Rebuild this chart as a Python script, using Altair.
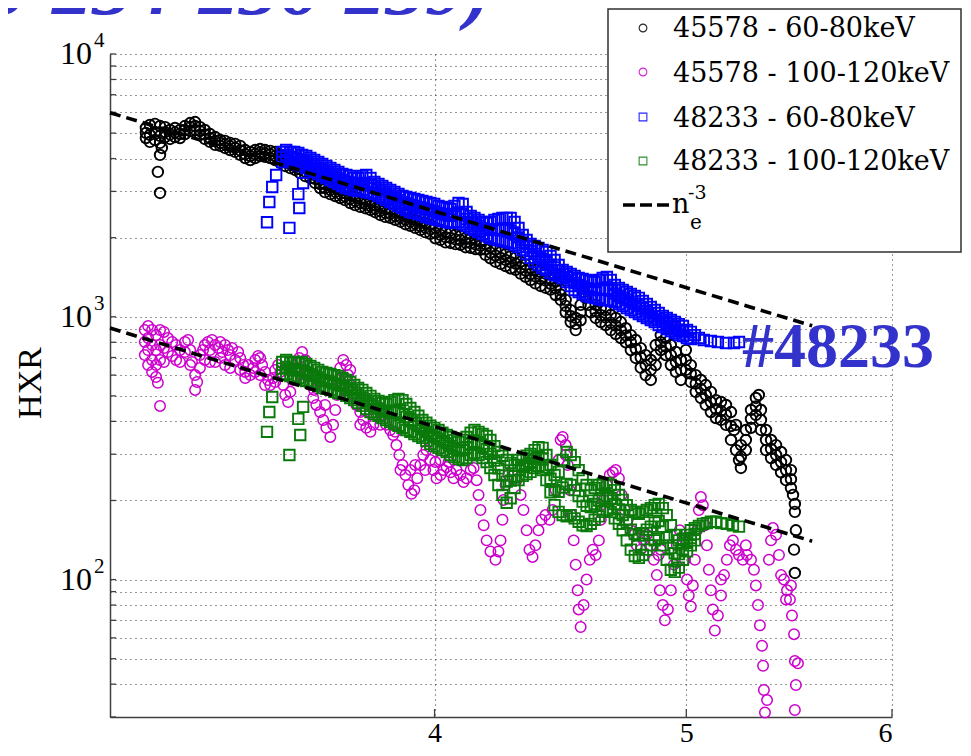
import altair as alt
import pandas as pd

# ---------------- data ----------------
series_names = ["45578 - 60-80keV", "45578 - 100-120keV", "48233 - 60-80keV", "48233 - 100-120keV"]
series_colors = ["#000000", "#cc00cc", "#0000ff", "#0a7a0a"]
series_shapes = ["circle", "circle", "square", "square"]
series_strokes = [1.9, 1.5, 1.9, 1.9]

# 45578 - 60-80keV  (n_e, HXR)
black_pts = [
(3.097,5230),(3.097,4790),(3.108,5370),(3.108,4920),(3.108,4630),(3.122,5420),(3.122,5050),(3.122,4710),
(3.136,5320),(3.136,4880),(3.136,4590),(3.150,5270),(3.150,4830),(3.164,5140),(3.164,4750),
(3.141,4390),(3.136,4130),(3.130,3560),(3.136,2960),
(3.178,5230),(3.178,4830),(3.192,5140),(3.192,4790),(3.206,5320),(3.206,4960),(3.221,5460),(3.221,5090),
(3.235,5510),(3.235,5140),(3.249,5270),(3.249,4920),(3.263,5140),(3.263,4750),(3.278,4960),(3.278,4630),
(3.293,4830),(3.293,4510),(3.308,4710),(3.308,4470),(3.322,4670),(3.322,4390),(3.337,4590),(3.337,4310),
(3.352,4550),(3.352,4240),(3.367,4470),(3.367,4130),(3.382,4310),(3.382,4020),(3.397,4240),(3.397,3950),
(3.412,4310),(3.412,4020),(3.427,4350),(3.427,4090),(3.442,4310),(3.442,4060),(3.458,4280),(3.458,4020),
(3.473,4240),(3.473,3950),(3.489,4130),(3.489,3850),(3.504,4020),(3.504,3750),(3.520,3950),(3.520,3680),
(3.535,3850),(3.535,3620),(3.551,3780),(3.551,3520),(3.567,3710),(3.567,3430),(3.583,3620),(3.583,3370),
(3.598,3460),(3.598,3230),(3.614,3320),(3.614,3090),(3.630,3200),(3.630,2980),(3.647,3150),(3.647,2930),
(3.663,3090),(3.663,2880),(3.679,3040),(3.679,2830),(3.695,2960),(3.695,2780),(3.712,2910),(3.712,2710),
(3.728,2860),(3.728,2660),(3.745,2810),(3.745,2620),(3.762,2780),(3.762,2590),(3.779,2730),(3.779,2550),
(3.795,2660),(3.795,2500),(3.812,2620),(3.812,2440),(3.829,2570),(3.829,2400),(3.846,2550),(3.846,2380),
(3.863,2500),(3.863,2340),(3.881,2480),(3.881,2300),(3.898,2440),(3.898,2250),(3.915,2380),(3.915,2220),
(3.932,2340),(3.932,2180),(3.950,2290),(3.950,2140),(3.967,2270),(3.967,2100),(3.985,2240),(3.985,2070),
(4.003,2180),(4.003,1990),(4.021,2140),(4.021,1960),(4.039,2100),(4.039,1920),(4.057,2080),(4.057,1910),
(4.075,2050),(4.075,1890),(4.093,2030),(4.093,1880),(4.111,1990),(4.111,1840),(4.130,1980),(4.130,1830),
(4.148,1960),(4.148,1810),(4.166,1930),(4.166,1800),(4.185,1890),(4.185,1720),(4.203,1840),(4.203,1670),
(4.222,1800),(4.222,1620),(4.241,1760),(4.241,1590),(4.260,1730),(4.260,1560),(4.279,1700),(4.279,1530),
(4.298,1680),(4.298,1510),(4.317,1620),(4.317,1460),(4.336,1580),(4.336,1420),(4.355,1530),(4.355,1380),
(4.374,1510),(4.374,1340),(4.394,1480),(4.394,1310),(4.413,1460),(4.413,1290),(4.433,1400),(4.433,1270),
(4.453,1360),(4.453,1210),(4.473,1270),(4.473,1160),(4.493,1160),(4.493,1040),(4.513,1060),(4.513,955),
(4.533,990),(4.533,890),(4.553,1110),(4.553,970),(4.565,1240),(4.573,1180),(4.585,1110),(4.594,1040),
(4.614,1110),(4.614,990),(4.635,1080),(4.635,955),(4.655,1060),(4.655,930),(4.676,1016),(4.676,890),
(4.697,990),(4.697,860),(4.718,955),(4.718,830),(4.739,905),(4.739,800),(4.760,852),(4.760,747),
(4.781,816),(4.781,697),(4.802,760),(4.802,640),(4.823,715),(4.823,600),(4.845,685),(4.845,575),
(4.866,781),(4.866,655),(4.888,852),(4.888,747),(4.910,830),(4.910,715),(4.932,781),(4.932,655),
(4.954,735),(4.954,617),(4.976,685),(4.976,575),(4.998,747),(4.998,628),(5.020,655),(5.020,565),
(5.042,600),(5.042,518),(5.065,575),(5.065,491),(5.087,550),(5.087,462),(5.110,518),(5.110,434),
(5.133,482),(5.133,412),(5.156,474),(5.156,405),(5.179,462),(5.179,388),(5.202,434),(5.202,340),
(5.216,371),(5.225,388),(5.225,311),(5.239,285),(5.248,325),(5.248,266),(5.271,371),(5.271,311),
(5.295,442),(5.295,378),(5.318,491),(5.318,423),(5.332,504),(5.342,442),(5.342,371),(5.366,371),(5.366,311),
(5.390,340),(5.390,290),(5.414,325),(5.414,273),(5.438,306),(5.438,256),(5.462,285),(5.462,239),
(5.486,261),(5.486,223),(5.496,210),(5.505,194),(5.505,181),(5.510,154),(5.501,130),(5.505,106),
# band centre
(3.097,5005),(3.150,5045),(3.164,4940),(3.178,5025),(3.192,4960),(3.206,5135),(3.221,5270),(3.235,5320),
(3.249,5090),(3.263,4940),(3.278,4790),(3.293,4665),(3.308,4590),(3.322,4530),(3.337,4450),(3.352,4390),
(3.367,4295),(3.382,4160),(3.397,4090),(3.412,4160),(3.427,4220),(3.442,4180),(3.458,4150),(3.473,4090),
(3.489,3990),(3.504,3880),(3.520,3810),(3.535,3735),(3.551,3650),(3.567,3565),(3.583,3490),(3.598,3345),
(3.614,3200),(3.630,3090),(3.647,3040),(3.663,2985),(3.679,2935),(3.695,2870),(3.712,2810),(3.728,2760),
(3.745,2715),(3.762,2685),(3.779,2640),(3.795,2580),(3.812,2530),(3.829,2485),(3.846,2465),(3.863,2420),
(3.881,2390),(3.898,2345),(3.915,2300),(3.932,2260),(3.950,2215),(3.967,2185),(3.985,2155),(4.003,2085),
(4.021,2050),(4.039,2010),(4.057,1995),(4.075,1970),(4.093,1955),(4.111,1915),(4.130,1905),(4.148,1885),
(4.166,1865),(4.185,1805),(4.203,1755),(4.222,1710),(4.241,1675),(4.260,1645),(4.279,1615),(4.298,1595),
(4.317,1540),(4.336,1500),(4.355,1455),(4.374,1425),(4.394,1395),(4.413,1375),(4.433,1335),(4.453,1285),
(4.473,1215),(4.493,1100),(4.513,1005),(4.533,940),(4.553,1040),(4.614,1050),(4.635,1015),(4.655,995),
(4.676,950),(4.697,925),(4.718,890),(4.739,850),(4.760,800),(4.781,755),(4.802,700),(4.823,655),
(4.845,628),(4.866,715),(4.888,800),(4.910,770),(4.932,715),(4.954,673),(4.976,628),(4.998,685),
(5.020,608),(5.042,557),(5.065,531),(5.087,504),(5.110,474),(5.133,446),(5.156,438),(5.179,424),
(5.202,384),(5.248,294),(5.271,340),(5.295,409),(5.318,456),(5.342,405),(5.366,340),(5.390,314),
(5.414,298),(5.438,280),(5.462,261),(5.486,241),
]

# 45578 - 100-120keV
magenta_pts = [
(3.094,891),(3.094,802),(3.094,715),(3.103,922),(3.103,830),(3.103,747),(3.103,655),(3.114,891),(3.114,781),
(3.114,685),(3.114,617),(3.125,852),(3.125,747),(3.125,655),(3.125,590),(3.136,891),(3.136,781),(3.136,685),
(3.147,876),(3.147,760),(3.147,673),(3.158,830),(3.158,734),(3.170,802),(3.170,709),(3.181,781),(3.181,685),
(3.192,747),(3.192,673),(3.130,561),(3.136,458),(3.206,802),(3.206,734),(3.215,816),(3.221,747),(3.226,673),
(3.235,600),(3.235,527),(3.241,565),(3.249,639),(3.249,715),(3.258,747),(3.263,781),(3.272,802),(3.278,747),
(3.284,816),(3.293,781),(3.302,760),(3.308,802),(3.314,734),(3.322,781),(3.331,747),(3.337,715),(3.343,760),
(3.352,685),(3.361,734),(3.367,697),(3.376,655),(3.382,617),(3.391,655),(3.397,600),(3.406,639),(3.412,685),
(3.421,709),(3.427,697),(3.433,655),(3.442,617),(3.451,575),(3.458,550),(3.467,585),(3.473,628),(3.482,655),
(3.489,617),(3.498,550),(3.504,504),(3.513,474),(3.520,518),(3.529,575),(3.538,639),(3.548,697),(3.557,734),
(3.567,685),(3.576,617),(3.583,550),(3.592,491),(3.602,462),(3.614,434),(3.624,405),(3.634,378),(3.647,349),
(3.656,388),(3.663,442),(3.669,504),(3.673,575),(3.679,639),(3.689,685),(3.699,655),(3.705,600),(3.712,550),
(3.722,504),(3.732,462),(3.745,434),(3.755,405),(3.765,378),(3.779,365),(3.789,388),(3.799,423),(3.812,442),
(3.822,423),(3.832,388),(3.846,371),(3.856,355),(3.867,325),(3.877,298),(3.888,273),(3.898,250),(3.908,229),
(3.919,212),(3.929,219),(3.939,243),(3.950,273),(3.960,298),(3.971,311),(3.985,285),(3.996,261),(4.007,243),
(4.021,250),(4.032,261),(4.043,268),(4.057,256),
(3.263,685),(3.293,673),(3.322,655),(3.367,628),(3.427,600),(3.551,628),(3.695,585),(3.745,388),(3.881,261),
(3.932,273),
(3.221,655),(3.278,673),(3.308,697),(3.337,639),(3.382,585),(3.412,617),(3.442,550),(3.473,565),(3.520,628),
(3.567,600),(3.595,527),(3.630,462),(3.712,628),(3.762,442),(3.812,388),(3.863,365),(3.915,261),(3.967,261),
(4.003,280),
(4.068,243),(4.079,261),(4.093,250),(4.104,235),(4.115,243),(4.130,261),(4.141,266),(4.152,239),(4.159,210),
(4.166,184),(4.178,161),(4.189,141),(4.203,128),(4.222,119),(4.233,128),(4.241,141),(4.248,169),(4.252,201),
(4.260,229),(4.271,250),(4.286,261),(4.301,239),(4.317,210),(4.328,184),(4.340,154),(4.351,130),(4.363,122),
(4.374,135),(4.386,154),(4.398,169),(4.413,176),(4.429,169),(4.441,184),(4.453,219),(4.465,285),(4.473,340),
(4.481,349),(4.493,325),(4.501,273),(4.509,219),(4.517,176),(4.525,141),(4.533,114),(4.541,91),(4.545,77),
(4.553,66),(4.565,80),(4.577,100),(4.590,119),(4.602,130),(4.614,124),(4.627,141),(4.635,169),(4.647,201),
(4.660,229),(4.672,250),(4.685,256),(4.697,261),(4.710,243),(4.722,210),(4.735,184),(4.747,169),(4.760,154),
(4.773,148),(4.785,135),(4.802,130),(4.815,141),(4.828,148),(4.845,135),(4.858,119),(4.871,104),(4.884,91),
(4.897,80),(4.906,70),(4.919,77),(4.932,91),(4.945,114),(4.958,135),(4.971,154),(4.985,141),(4.994,119),
(5.003,100),(5.011,87),(5.020,79),(5.029,95),(5.038,119),(5.047,154),(5.056,184),(5.065,206),(5.074,192),
(5.083,161),(5.092,135),(5.101,109),(5.110,91),(5.119,77),(5.128,64),(5.142,73),(5.156,87),(5.170,104),
(5.183,119),(5.197,135),(5.211,141),(5.225,130),(5.239,124),(5.257,119),(5.276,124),(5.295,119),(5.309,109),
(5.318,95),(5.328,80),(5.337,67),(5.347,56),(5.352,47),(5.356,38),(5.361,31.2),(5.371,34.8),(5.380,119),
(5.390,141),(5.399,157),(5.414,148),(5.428,124),(5.438,104),(5.452,100),(5.467,91),(5.481,84),(5.491,73),
(5.501,62),(5.505,49),(5.510,39.7),(5.505,31.9),(5.520,48),
(4.021,285),(4.050,280),(4.635,192),(4.888,130),(5.271,135),(5.486,95),(5.462,84),(5.156,100),(4.493,298),
(4.879,124),
]

# 48233 - 60-80keV
blue_pts = [
(3.476,3464),(3.464,3118),(3.455,2735),(3.448,2290),(3.517,2180),(3.548,2595),(3.545,2930),(3.560,3230),
(3.495,4240),(3.495,3880),(3.507,4312),(3.507,3951),(3.520,4240),(3.520,3880),(3.532,4240),(3.532,3850),
(3.545,4200),(3.545,3781),(3.557,4128),(3.557,3750),(3.570,4090),(3.570,3685),(3.583,4020),(3.583,3619),
(3.595,3951),(3.595,3556),(3.608,3880),(3.608,3495),(3.621,3815),(3.621,3434),(3.634,3750),(3.634,3374),
(3.647,3685),(3.647,3315),(3.660,3619),(3.660,3258),(3.673,3556),(3.673,3201),(3.686,3495),(3.686,3146),
(3.699,3464),(3.699,3091),(3.712,3434),(3.712,3064),(3.725,3374),(3.725,3037),(3.738,3374),(3.738,3011),
(3.752,3434),(3.752,3037),(3.765,3464),(3.765,2984),(3.779,3374),(3.779,2958),(3.792,3258),(3.792,2932),
(3.806,3201),(3.806,2881),(3.819,3146),(3.819,2831),(3.832,3091),(3.832,2782),(3.846,3037),(3.846,2734),
(3.860,2984),(3.860,2686),(3.874,2932),(3.874,2640),(3.888,2881),(3.888,2594),(3.901,2856),(3.901,2549),
(3.915,2831),(3.915,2505),(3.929,2806),(3.929,2483),(3.943,2782),(3.943,2461),(3.957,2758),(3.957,2440),
(3.971,2734),(3.971,2397),(3.985,2710),(3.985,2377),(3.999,2686),(3.999,2356),(4.014,2640),(4.014,2335),
(4.028,2617),(4.028,2315),(4.043,2594),(4.043,2295),(4.057,2571),(4.057,2275),(4.071,2640),(4.071,2295),
(4.086,2710),(4.086,2295),(4.101,2686),(4.101,2255),(4.115,2505),(4.115,2216),(4.130,2418),(4.130,2178),
(4.144,2377),(4.144,2139),(4.159,2335),(4.159,2102),(4.174,2295),(4.174,2066),(4.189,2275),(4.189,2030),
(4.203,2295),(4.203,1995),(4.218,2335),(4.218,1977),(4.233,2356),(4.233,1960),(4.248,2377),(4.248,1943),
(4.264,2377),(4.264,1926),(4.279,2377),(4.279,1909),(4.294,2295),(4.294,1876),(4.309,2178),(4.309,1843),
(4.325,2048),(4.325,1796),(4.340,1960),(4.340,1734),(4.355,1893),(4.355,1675),(4.371,1860),(4.371,1617),
(4.386,1827),(4.386,1575),(4.402,1796),(4.402,1534),(4.417,1765),(4.417,1507),(4.433,1704),(4.433,1468),
(4.449,1645),(4.449,1442),(4.465,1575),(4.465,1430),(4.481,1507),(4.481,1405),(4.497,1481),(4.497,1356),
(4.513,1455),(4.513,1310),(4.529,1430),(4.529,1265),(4.545,1405),(4.545,1243),(4.561,1392),(4.561,1221),
(4.577,1380),(4.577,1200),(4.594,1368),(4.594,1190),(4.610,1356),(4.610,1180),(4.627,1380),(4.627,1169),
(4.643,1405),(4.643,1159),(4.660,1417),(4.660,1159),(4.676,1380),(4.676,1149),(4.693,1321),(4.693,1139),
(4.710,1287),(4.710,1119),(4.726,1265),(4.726,1100),(4.743,1243),(4.743,1080),(4.760,1221),(4.760,1061),
(4.777,1200),(4.777,1043),(4.794,1180),(4.794,1025),(4.811,1149),(4.811,1007),(4.828,1119),(4.828,990),
(4.845,1090),(4.845,972),(4.862,1061),(4.862,955),(4.879,1034),(4.879,930),(4.897,1007),(4.897,914),
(4.914,990),(4.914,898),(4.932,972),(4.932,883),(4.949,955),(4.949,868),(4.967,938),(4.967,852),
(4.985,922),(4.985,845),(5.003,891),(5.003,830),(5.020,876),(5.020,823),(5.038,852),(5.056,830),
(5.078,816),(5.110,809),(5.142,802),(5.179,795),(5.216,795),(5.239,802),
# band centre
(3.495,4055),(3.507,4128),(3.520,4055),(3.532,4040),(3.545,3985),(3.557,3935),(3.570,3880),(3.583,3815),
(3.595,3750),(3.608,3680),(3.621,3620),(3.634,3555),(3.647,3495),(3.660,3435),(3.673,3375),(3.686,3315),
(3.699,3270),(3.712,3245),(3.725,3200),(3.738,3190),(3.752,3230),(3.765,3215),(3.779,3160),(3.792,3090),
(3.806,3035),(3.819,2985),(3.832,2930),(3.846,2880),(3.860,2830),(3.874,2780),(3.888,2735),(3.901,2700),
(3.915,2665),(3.929,2640),(3.943,2615),(3.957,2595),(3.971,2560),(3.985,2540),(3.999,2515),(4.014,2480),
(4.028,2460),(4.043,2440),(4.057,2420),(4.071,2460),(4.086,2495),(4.101,2460),(4.115,2355),(4.130,2295),
(4.144,2255),(4.159,2215),(4.174,2175),(4.189,2150),(4.203,2140),(4.218,2150),(4.233,2150),(4.248,2150),
(4.264,2140),(4.279,2130),(4.294,2075),(4.309,2005),(4.325,1920),(4.340,1845),(4.355,1780),(4.371,1735),
(4.386,1695),(4.402,1660),(4.417,1630),(4.433,1580),(4.449,1540),(4.465,1500),(4.481,1455),(4.497,1415),
(4.513,1380),(4.529,1345),(4.545,1320),(4.561,1305),(4.577,1285),(4.594,1275),(4.610,1265),(4.627,1270),
(4.643,1275),(4.660,1280),(4.676,1260),(4.693,1225),(4.710,1200),(4.726,1180),(4.743,1160),(4.760,1140),
(4.777,1120),(4.794,1100),(4.811,1075),(4.828,1050),(4.845,1030),(4.862,1005),(4.879,980),(4.897,960),
(4.914,943),(4.932,926),(4.949,910),(4.967,894),(4.985,883),
]

# 48233 - 100-120keV
green_pts = [
(3.464,495),(3.455,434),(3.448,365),(3.517,298),(3.551,355),(3.545,409),(3.560,454),
(3.495,673),(3.495,600),(3.507,685),(3.507,606),(3.520,673),(3.520,595),(3.532,673),(3.532,590),
(3.545,667),(3.545,585),(3.557,673),(3.557,575),(3.570,661),(3.570,570),(3.583,650),(3.583,565),
(3.595,639),(3.595,555),(3.608,628),(3.608,546),(3.621,617),(3.621,536),(3.634,611),(3.634,532),
(3.647,606),(3.647,527),(3.660,600),(3.660,518),(3.673,595),(3.673,513),(3.686,585),(3.686,509),
(3.699,575),(3.699,500),(3.712,565),(3.712,491),(3.725,550),(3.725,482),(3.738,536),(3.738,470),
(3.752,527),(3.752,458),(3.765,513),(3.765,446),(3.779,500),(3.779,434),(3.792,487),(3.792,427),
(3.806,478),(3.806,420),(3.819,470),(3.819,412),(3.832,466),(3.832,405),(3.846,474),(3.846,398),
(3.860,482),(3.860,391),(3.874,487),(3.874,385),(3.888,482),(3.888,378),(3.901,466),(3.901,371),
(3.915,450),(3.915,365),(3.929,434),(3.929,358),(3.943,420),(3.943,352),(3.957,405),(3.957,346),
(3.971,395),(3.971,337),(3.985,385),(3.985,328),(3.999,378),(3.999,322),(4.014,371),(4.014,317),
(4.028,362),(4.028,311),(4.043,355),(4.043,306),(4.057,349),(4.057,298),(4.071,340),(4.071,293),
(4.086,334),(4.086,288),(4.101,340),(4.101,285),(4.115,349),(4.115,290),(4.130,362),(4.130,298),
(4.144,371),(4.144,303),(4.159,365),(4.159,298),(4.174,358),(4.174,290),(4.189,352),(4.189,280),
(4.203,340),(4.203,266),(4.218,322),(4.218,250),(4.233,306),(4.233,229),(4.248,296),(4.248,210),
(4.264,285),(4.264,196),(4.279,278),(4.279,204),(4.294,273),(4.294,223),(4.309,285),(4.309,239),
(4.325,290),(4.325,248),(4.340,296),(4.340,252),(4.355,301),(4.355,257),(4.371,311),(4.371,266),
(4.386,319),(4.386,271),(4.402,317),(4.402,261),(4.417,298),(4.417,239),(4.433,273),(4.433,215),
(4.449,250),(4.449,192),(4.465,257),(4.465,181),(4.481,285),(4.481,176),(4.497,306),(4.497,174),
(4.513,298),(4.513,176),(4.529,280),(4.529,171),(4.545,261),(4.545,166),(4.561,243),(4.561,161),
(4.577,229),(4.577,160),(4.594,219),(4.594,163),(4.610,223),(4.610,169),(4.627,229),(4.627,174),
(4.643,231),(4.643,181),(4.660,233),(4.660,184),(4.676,229),(4.676,181),(4.693,219),(4.693,171),
(4.710,210),(4.710,163),(4.726,201),(4.726,154),(4.743,192),(4.743,141),(4.760,184),(4.760,130),
(4.777,181),(4.777,123),(4.794,178),(4.794,121),(4.811,181),(4.811,124),(4.828,184),(4.828,130),
(4.845,187),(4.845,135),(4.862,192),(4.862,141),(4.879,194),(4.879,143),(4.897,187),(4.897,135),
(4.914,176),(4.914,119),(4.932,161),(4.932,109),(4.949,148),(4.949,107),(4.967,141),(4.967,111),
(4.985,143),(4.985,119),(5.003,148),(5.003,128),(5.020,154),(5.020,135),(5.038,157),(5.038,141),
(5.056,160),(5.074,163),(5.092,164),(5.110,166),(5.133,166),(5.156,164),(5.183,163),(5.211,161),(5.239,159),
# band centre
(3.495,635),(3.507,645),(3.520,633),(3.532,630),(3.545,625),(3.557,622),(3.570,614),(3.583,606),
(3.595,596),(3.608,586),(3.621,575),(3.634,570),(3.647,565),(3.660,557),(3.673,552),(3.686,546),
(3.699,536),(3.712,527),(3.725,515),(3.738,502),(3.752,491),(3.765,478),(3.779,466),(3.792,456),
(3.806,448),(3.819,440),(3.832,434),(3.846,434),(3.860,434),(3.874,433),(3.888,427),(3.901,416),
(3.915,405),(3.929,394),(3.943,384),(3.957,374),(3.971,365),(3.985,355),(3.999,349),(4.014,343),
(4.028,336),(4.043,330),(4.057,322),(4.071,316),(4.086,310),(4.101,311),(4.115,318),(4.130,328),
(4.144,335),(4.159,330),(4.174,322),(4.189,314),(4.203,301),(4.218,284),(4.233,265),(4.248,249),
(4.264,236),(4.279,238),(4.294,247),(4.309,261),(4.325,268),(4.340,273),(4.355,278),(4.371,288),
(4.386,294),(4.402,288),(4.417,267),(4.433,242),(4.449,219),(4.465,216),(4.481,224),(4.497,231),
(4.513,229),(4.529,219),(4.545,208),(4.561,198),(4.577,191),(4.594,189),(4.610,194),(4.627,200),
(4.643,204),(4.660,207),(4.676,204),(4.693,194),(4.710,185),(4.726,176),(4.743,165),(4.760,155),
(4.777,149),(4.794,147),(4.811,150),(4.828,155),(4.845,159),(4.862,165),(4.879,167),(4.897,159),
(4.914,145),(4.932,132),(4.949,126),(4.967,125),(4.985,130),(5.003,138),(5.020,144),(5.038,149),
]

# n_e^-3 guide lines (end points)
fit_upper = [(3.0, 5980), (5.59, 924)]
fit_lower = [(3.0, 906), (5.59, 140)]

y_grid = [30, 40, 50, 60, 70, 80, 90, 100, 200, 300, 400, 500, 600, 700, 800, 900,
          1000, 2000, 3000, 4000, 5000, 6000, 7000, 8000, 9000, 10000]
y_major = [100, 1000, 10000]
y_major_exp = ["2", "3", "4"]
x_ticks = [4, 5, 6]

title_text = "3-234-236-239)"
shot_text = "#48233"
y_title = "HXR"

# ---------------- chart ----------------
W, H = 782, 663
TNR = "Times New Roman"
LFONT = "'DejaVu Serif'"
BLUE_TXT = "#3333cc"

xs = alt.Scale(type="log", domain=[3, 6], nice=False)
ys = alt.Scale(type="log", domain=[30, 10000], nice=False)

X = alt.X("ne:Q", scale=xs, axis=alt.Axis(values=x_ticks, title=None, ticks=False, tickSize=0, grid=True,
          gridDash=[1, 4], gridColor="#333333", gridWidth=1.1, labelFont=TNR, labelFontSize=28,
          labelColor="black", labelPadding=2, domainColor="#404040", domainWidth=1.5, format="d"))
Y = alt.Y("hxr:Q", scale=ys, axis=alt.Axis(values=y_grid, title=None, labels=False, ticks=False,
          grid=True, gridDash=[1, 4], gridColor="#333333", gridWidth=1.1,
          domainColor="#404040", domainWidth=1.5))


def pts_df(pts):
    return pd.DataFrame(pts, columns=["ne", "hxr"])


layers = []

# y ticks (inward) and x ticks (inward)
ytick_df = pd.DataFrame({"hxr": y_grid})
layers.append(alt.Chart(ytick_df).mark_rule(color="#404040", strokeWidth=1.3).encode(
    y=Y, x=alt.value(0), x2=alt.value(6)))
xtick_df = pd.DataFrame({"ne": x_ticks})
layers.append(alt.Chart(xtick_df).mark_rule(color="#404040", strokeWidth=1.3).encode(
    x=X, y=alt.value(H), y2=alt.value(H - 8)))

# data series
all_pts = [black_pts, magenta_pts, blue_pts, green_pts]
for pts, col, shp, sw in zip(all_pts, series_colors, series_shapes, series_strokes):
    layers.append(alt.Chart(pts_df(pts)).mark_point(
        shape=shp, filled=False, size=110, strokeWidth=sw, color=col, opacity=1).encode(x=X, y=Y))

# n_e^-3 dashed lines
for fit in (fit_upper, fit_lower):
    layers.append(alt.Chart(pts_df(fit)).mark_line(
        color="black", strokeWidth=3.6, strokeDash=[11, 6]).encode(x=X, y=Y))

# y tick labels 10^n
ylab_df = pd.DataFrame({"hxr": y_major, "exp": y_major_exp, "base": ["10"] * 3})
layers.append(alt.Chart(ylab_df).mark_text(
    font=TNR, fontSize=32, align="right", baseline="middle", color="black").encode(
    y=Y, x=alt.value(-18), text="base:N"))
layers.append(alt.Chart(ylab_df).mark_text(
    font=TNR, fontSize=21, align="left", baseline="middle", color="black", dy=-13).encode(
    y=Y, x=alt.value(-16), text="exp:N"))

one = pd.DataFrame({"k": [0]})

# y axis title
layers.append(alt.Chart(one).mark_text(
    font=TNR, fontSize=34, angle=270, align="center", baseline="middle", color="black",
    text=y_title).encode(x=alt.value(-79), y=alt.value(329)))

# top (cut-off) title and shot annotation
layers.append(alt.Chart(one).mark_text(
    font=TNR, fontSize=80, fontWeight="bold", fontStyle="italic", align="right",
    baseline="alphabetic", color=BLUE_TXT, text=title_text).encode(x=alt.value(382), y=alt.value(-40)))
layers.append(alt.Chart(one).mark_text(
    font=TNR, fontSize=64, fontWeight="bold", align="left", baseline="alphabetic",
    color=BLUE_TXT, text=shot_text).encode(x=alt.value(632), y=alt.value(313)))

# legend box
LEG_R = 851
layers.append(alt.Chart(one).mark_rect(fill="white", stroke="#303030", strokeWidth=1.5).encode(
    x=alt.value(498), x2=alt.value(LEG_R), y=alt.value(-45), y2=alt.value(198)))

leg_sym_y = [-26, 18, 63, 107]
leg_txt_y = [-17, 28, 73, 116]
for name, col, shp, sy, ty in zip(series_names, series_colors, series_shapes, leg_sym_y, leg_txt_y):
    layers.append(alt.Chart(one).mark_point(shape=shp, filled=False, size=60, strokeWidth=1.1,
                                            color=col, opacity=0.85).encode(
        x=alt.value(533), y=alt.value(sy)))
    layers.append(alt.Chart(one).mark_text(font=LFONT, fontSize=27, align="left",
                                           baseline="alphabetic", color="black", text=name).encode(
        x=alt.value(563), y=alt.value(ty)))

layers.append(alt.Chart(one).mark_rule(color="black", strokeWidth=3.6, strokeDash=[12, 5]).encode(
    x=alt.value(513), x2=alt.value(562), y=alt.value(151)))
layers.append(alt.Chart(one).mark_text(font=LFONT, fontSize=27, align="left", baseline="alphabetic",
                                       color="black", text="n").encode(x=alt.value(562), y=alt.value(159)))
layers.append(alt.Chart(one).mark_text(font=LFONT, fontSize=19, align="left", baseline="alphabetic",
                                       color="black", text="-3").encode(x=alt.value(578), y=alt.value(145)))
layers.append(alt.Chart(one).mark_text(font=LFONT, fontSize=20, align="left", baseline="alphabetic",
                                       color="black", text="e").encode(x=alt.value(580), y=alt.value(175)))

chart = alt.layer(*layers).properties(
    width=W, height=H,
    autosize=alt.AutoSizeParams(type="none"),
    padding={"left": 102, "top": 46, "right": 71, "bottom": 31},
    background="white",
).configure_view(stroke=None)

chart.save("out.html", embed_options={"renderer": "svg", "actions": False})
